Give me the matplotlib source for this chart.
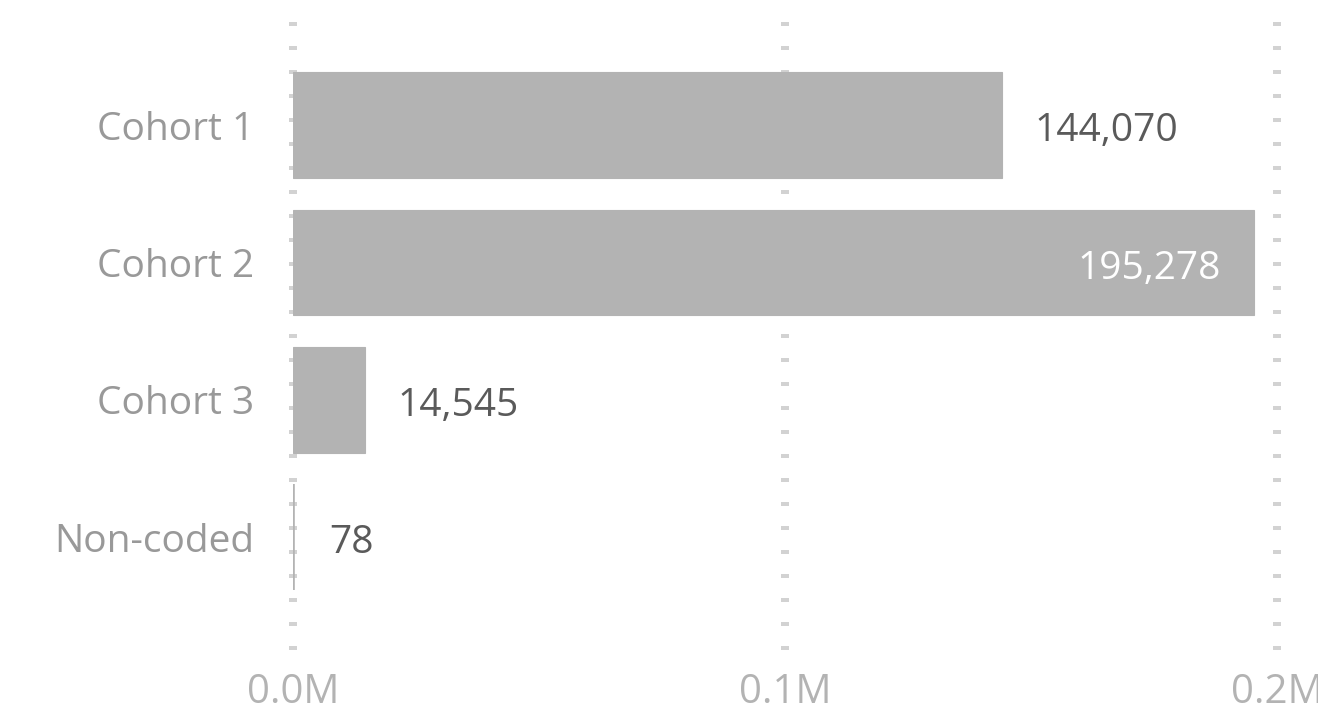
import matplotlib
matplotlib.use("Agg")
import matplotlib.pyplot as plt

categories = ["Cohort 1", "Cohort 2", "Cohort 3", "Non-coded"]
values = [144070, 195278, 14545, 78]
xticks = [0, 100000, 200000]
xtick_labels = ["0.0M", "0.1M", "0.2M"]

W, H = 1318, 714
DPI = 100
plt.rcParams['font.family'] = ['Open Sans', 'DejaVu Sans']

fig = plt.figure(figsize=(W / DPI, H / DPI), dpi=DPI)
fig.patch.set_facecolor("white")

left_px, right_px, top_px, bottom_px = 293, 1277, 20, 650
ax = fig.add_axes([left_px / W, (H - bottom_px) / H,
                   (right_px - left_px) / W, (bottom_px - top_px) / H])

bar_color = "#b3b3b3"
y = list(range(len(categories)))
vmax = max(values)
# tiny bars get a visible minimum width via their edge (as in the reference)
edge_widths = [2.6 if v < vmax * 0.01 else 0.8 for v in values]
ax.barh(y, values, height=0.77, color=bar_color, edgecolor=bar_color,
        linewidth=edge_widths, zorder=2)

# category spacing 137.4 px, first center at 125 px
step = 137.4
ax.set_ylim((bottom_px - 125) / step, (top_px - 125) / step)
ax.set_xlim(0, 200000)

for xt in xticks:
    ax.axvline(xt, color="#d2d2d2", linewidth=5.76, linestyle=(0.0, (0.5, 2.5)),
               solid_capstyle="butt", dash_capstyle="butt", zorder=1, clip_on=False)

for s in ax.spines.values():
    s.set_visible(False)
ax.set_xticks(xticks)
ax.set_xticklabels(xtick_labels)
ax.set_yticks(y)
ax.set_yticklabels(categories)
ax.tick_params(axis="x", length=0, labelsize=29, labelcolor="#b3b3b3", pad=16)
ax.tick_params(axis="y", length=0, labelsize=28, labelcolor="#999999", pad=28)

px_per_unit = (right_px - left_px) / 200000
for i, v in enumerate(values):
    label = f"{v:,}"
    end_px = v * px_per_unit
    if v > 180000:
        ax.annotate(label, (v, i), xytext=(-33 * 0.72, -4.5), textcoords="offset points",
                    ha="right", va="center", fontsize=28, color="white", zorder=3)
    else:
        ax.annotate(label, (v, i), xytext=(max(33, 36 - end_px) * 0.72, -4.5),
                    textcoords="offset points",
                    ha="left", va="center", fontsize=28, color="#5a5a5a", zorder=3)

fig.savefig("out.png", dpi=DPI, facecolor="white")
